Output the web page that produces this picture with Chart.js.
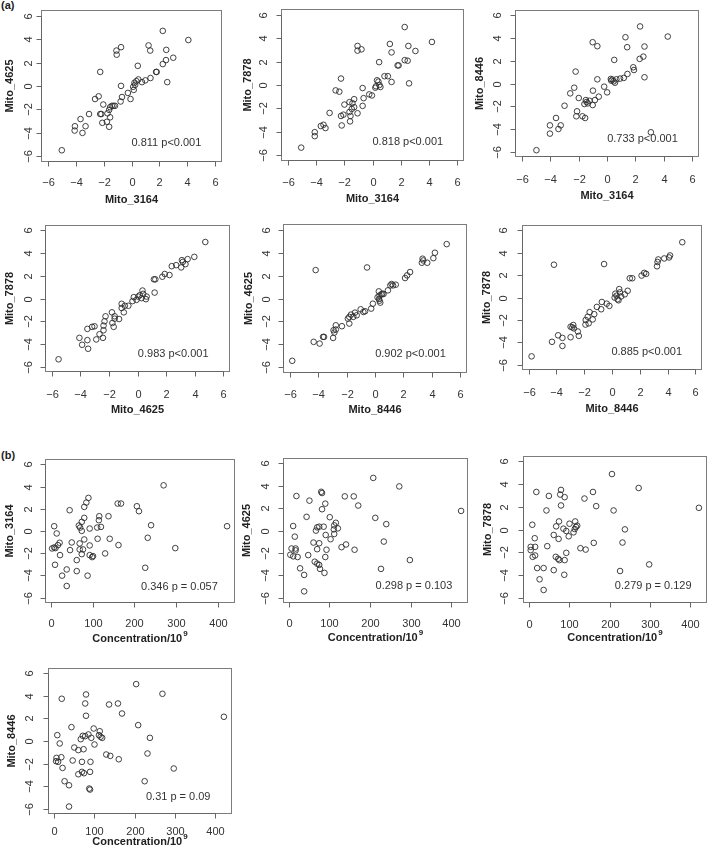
<!DOCTYPE html>
<html><head><meta charset="utf-8">
<script src="https://cdn.jsdelivr.net/npm/chart.js@4.4.0/dist/chart.umd.min.js"></script>
<style>
html,body{margin:0;padding:0;background:#fff;overflow:hidden;}
#wrap{position:relative;width:709px;height:858px;overflow:hidden;}
#wrap canvas{position:absolute;}
.lbl{position:absolute;font:bold 11px "Liberation Sans",Arial,sans-serif;color:#222;line-height:11px;}
</style></head>
<body><div id="wrap"><div class="lbl" style="left:1px;top:0px">(a)</div><div class="lbl" style="left:1px;top:450px">(b)</div></div>
<script>
// ---------- tick labels ----------
const ticksMito = [-6, -4, -2, 0, 2, 4, 6];
const ticksConc = [0, 100, 200, 300, 400];

// ---------- (a) panel 1: Mito_4625 vs Mito_3164 ----------
const a1_x = [-4.99,4.07,2.24,1.22,1.34,2.49,-0.75,-1.08,-1.06,2.99,2.47,2.24,0.45,1.76,1.8,-2.24,1.36,2.56,0.99,0.75,0.49,0.35,0.21,0.26,0.12,-0.75,-0.26,-0.07,0.16,-0.68,-0.78,-2.61,-2.35,-2.02,-1.18,-1.41,-1.29,-1.53,-1.6,-1.72,-2.24,-2.16,-3.04,-1.53,-2.09,-1.76,-1.6,-3.65,-4.05,-3.29,-4.07,-3.51];
const a1_y = [-5.48,3.92,4.7,3.46,3.02,3.08,3.31,3.02,2.67,2.41,2.21,1.87,1.72,1.2,1.2,1.2,0.68,0.33,0.48,0.33,0.56,0.42,0.27,0.1,-0.07,0.01,-0.59,-1.11,-0.33,-0.94,-1.32,-1.11,-0.88,-1.58,-1.69,-1.69,-1.69,-1.81,-2.04,-2.33,-2.39,-2.39,-2.39,-2.67,-3.14,-3.05,-3.48,-2.82,-3.43,-3.43,-3.8,-4.0];
// ---------- (a) panel 2: Mito_7878 vs Mito_3164 ----------
const a2_x = [-5.05,2.28,4.21,1.23,2.54,-1.06,-1.06,-0.78,1.35,3.04,2.28,2.49,0.47,1.78,1.85,0.85,1.09,1.35,2.59,0.32,0.42,0.49,0.25,0.2,0.56,-2.23,-2.61,-2.35,-0.7,-0.23,-0.04,-0.63,-1.3,-1.99,-1.63,-1.42,-1.3,-1.47,-0.7,-1.06,-1.63,-1.56,-1.59,-2.06,-2.23,-2.18,-3.04,-3.66,-3.47,-3.33,-4.09,-4.09];
const a2_y = [-5.34,4.94,3.67,3.5,3.33,3.33,2.93,3.04,2.78,2.9,2.12,2.07,1.95,1.67,1.67,0.75,0.75,0.26,0.14,0.4,0.29,0,-0.11,-0.23,-0.17,0.55,-0.46,-0.57,-0.26,-0.8,-0.89,-1.12,-1.21,-1.67,-1.46,-1.55,-1.89,-2.04,-1.78,-2.41,-2.3,-2.64,-3.1,-2.53,-2.64,-3.45,-2.38,-3.5,-3.39,-3.67,-4.02,-4.36];
// ---------- (a) panel 3: Mito_8446 vs Mito_3164 ----------
const a3_x = [-4.97,2.33,4.28,1.3,2.64,1.42,-1.01,-0.68,0.51,2.3,2.56,1.85,1.9,-2.21,2.64,1.44,1.18,0.92,0.66,0.39,0.3,0.47,0.56,0.27,-0.68,-2.31,-2.59,-0.2,0.01,-0.99,-0.58,-1.99,-0.85,-1.35,-1.59,-1.49,-1.23,-1.01,-2.99,-2.11,-2.16,-1.73,-1.54,-3.59,-3.26,-3.42,-4.02,-4.02,3.09,-1.44];
const a3_y = [-5.88,5.03,4.14,4.08,3.26,3.2,3.64,3.29,2.08,2.17,2.37,1.43,1.19,1.05,0.55,0.84,0.49,0.43,0.37,0.34,0.25,0.19,0.07,0.4,0.37,-0.37,-0.87,-0.28,-0.78,-0.63,-1.16,-1.28,-1.46,-1.75,-1.81,-1.46,-1.52,-1.9,-1.96,-2.45,-2.89,-2.89,-3.04,-3.04,-3.69,-4.01,-3.69,-4.42,-4.3,-1.63];
// ---------- (a) panel 4: Mito_7878 vs Mito_4625 ----------
const a4_x = [-5.53,4.75,3.98,3.51,3.11,3.18,3.36,3.06,2.71,2.4,2.24,1.91,1.74,1.15,1.25,1.2,0.35,0.4,0.16,0.05,0.59,0.28,-0.07,-0.26,-0.35,0.64,-0.64,-1.11,-1.11,-0.89,-0.96,-1.79,-1.6,-1.6,-1.29,-1.76,-1.67,-2.24,-2.31,-2.38,-2.38,-2.66,-2.89,-2.42,-3.01,-3.18,-3.51,-3.51,-3.46,-3.88,-4.07];
const a4_y = [-5.36,4.98,3.67,3.47,3.38,3.23,3.03,2.74,2.94,2.85,2.07,2.16,1.92,1.69,1.69,0.52,0.7,0.41,0.29,0.17,-0.06,0.03,-0.12,0.12,-0.23,0.17,-0.64,-0.47,-0.84,-0.64,-1.22,-1.22,-1.57,-1.78,-1.81,-2.16,-2.5,-1.57,-2.01,-2.39,-2.8,-3.15,-3.61,-3.47,-2.45,-2.5,-2.68,-3.67,-4.43,-4.08,-3.47];
// ---------- (a) panel 5: Mito_4625 vs Mito_8446 ----------
const a5_x = [-5.83,5.05,4.22,4.11,3.68,3.35,3.3,3.4,2.47,2.26,2.12,1.46,1.17,1.27,1.08,0.91,0.6,0.51,0.27,0.32,0.18,0.32,0.37,-0.56,-4.18,-0.15,-0.27,-1.01,-0.82,-1.41,-1.69,-1.81,-1.53,-1.91,-1.29,-1.81,-2.33,-2.76,-2.76,-2.92,-2.95,-2.86,-3.59,-3.66,-3.9,-4.32,-0.7,0.45,0.28];
const a5_y = [-5.42,4.73,3.98,3.51,3.11,3.46,3.11,3.31,2.3,2.01,1.78,1.2,1.26,1.14,1.14,0.71,0.39,0.42,0.62,0.27,0.1,-0.19,-0.36,2.7,2.47,-0.45,-0.88,-0.94,-1.17,-1.23,-1.4,-1.6,-1.6,-1.75,-1.46,-2.18,-2.41,-2.33,-2.7,-2.76,-3.43,-2.96,-3.34,-3.34,-3.92,-3.77,-1.11,0.35,-0.05];
// ---------- (a) panel 6: Mito_7878 vs Mito_8446 ----------
const a6_x = [-5.79,5.06,4.18,4.11,3.76,3.33,3.28,3.24,2.46,2.32,2.13,1.28,1.46,1.13,0.92,0.52,0.57,0.24,0.33,0.19,0.47,0.66,0.4,-0.57,-4.18,-0.73,-0.38,-0.19,-1.09,-0.78,-1.28,-1.61,-1.75,-1.89,-1.91,-1.68,-1.39,-2.79,-2.86,-2.98,-2.46,-2.39,-2.98,-3.57,-3.88,-3.57,-4.32,-2.74];
const a6_y = [-5.26,4.94,3.76,3.58,3.49,3.4,3.17,2.79,2.11,2.2,1.96,1.72,1.72,0.6,0.28,0.75,0.46,0.34,0.16,-0.01,-0.25,0.1,-0.16,2.99,2.93,-0.4,-0.55,-0.75,-0.84,-1.05,-1.49,-1.31,-1.72,-2.01,-2.42,-2.31,-1.96,-2.46,-2.67,-2.61,-3.04,-3.43,-3.55,-3.61,-3.38,-4.33,-3.96,-2.76];
// ---------- (b) panel 1: Mito_3164 vs Concentration ----------
const b1_x = [270,422,160,168,206,211,240,232,298,226,90,85,80,45,116,138,115,80,74,67,70,74,93,111,120,8,14,141,112,80,21,17,50,69,93,162,3,8,11,46,69,77,74,22,93,101,99,130,62,10,38,62,27,88,38];
const b1_y = [4.11,0.43,2.47,2.47,2.23,1.78,0.52,-0.61,-1.54,-3.31,2.98,2.56,2.17,1.87,1.33,1.33,0.97,1.18,0.82,0.49,0.31,0.01,0.22,0.31,0.37,0.43,-0.22,-0.7,-0.7,-0.76,-1.06,-1.27,-1.03,-1.12,-1.3,-1.27,-1.57,-1.48,-1.54,-1.72,-1.66,-1.66,-2.08,-2.17,-2.17,-2.26,-2.35,-2.02,-2.62,-3.04,-3.46,-3.61,-4.02,-4.02,-4.95];
// ---------- (b) panel 2: Mito_4625 vs Concentration ----------
const b2_x = [208,272,424,138,160,171,213,240,234,298,227,19,51,80,82,90,82,44,101,116,112,121,111,70,67,75,86,11,15,91,112,103,61,75,141,130,162,93,70,7,17,17,4,11,22,48,90,64,70,75,28,77,88,38,38];
const b2_y = [4.7,3.94,1.75,3.05,3.05,2.23,1.13,0.57,-0.99,-2.64,-3.43,3.08,2.67,3.46,3.35,2.4,1.9,1.22,1.19,0.69,0.46,0.19,0.1,0.28,-0.01,0.34,0.34,0.4,-0.55,-0.4,-0.31,-0.78,-1.08,-1.14,-1.25,-1.49,-1.72,-1.72,-1.67,-1.61,-1.61,-1.78,-2.17,-2.31,-2.37,-2.2,-2.37,-2.79,-2.96,-3.08,-3.38,-3.43,-3.79,-3.97,-5.44];
// ---------- (b) panel 3: Mito_7878 vs Concentration ----------
const b3_x = [206,272,421,19,50,80,78,89,138,159,167,80,44,210,238,232,298,226,9,75,68,101,115,117,120,114,111,86,93,99,62,74,15,46,128,141,161,5,16,5,10,16,67,73,76,93,89,21,37,62,27,88,37];
const b3_y = [4.89,3.66,1.91,3.31,2.96,3.49,3.08,2.85,2.73,3.31,2.06,2.12,1.68,1.68,0.01,-1.15,-3.08,-3.66,0.42,0.71,0.28,0.51,0.71,0.22,0.34,0.04,-0.25,0.07,-0.13,-0.6,-0.48,-0.83,-0.77,-1.47,-1.65,-1.77,-1.18,-1.53,-1.53,-1.82,-2.41,-2.29,-2.41,-2.58,-2.7,-2.06,-2.7,-3.4,-3.4,-3.58,-4.39,-3.99,-5.33];
// ---------- (b) panel 4: Mito_8446 vs Concentration ----------
const b4_x = [204,269,421,20,80,78,80,137,159,169,209,238,232,297,225,44,9,15,99,114,112,116,120,86,72,67,78,93,101,51,61,74,130,140,161,91,70,47,7,19,6,11,22,70,75,90,61,27,38,88,90,38];
const b4_y = [5.05,4.19,2.15,3.75,4.13,3.33,2.24,3.24,3.33,2.44,1.41,0.28,-1.11,-2.44,-3.57,1.23,0.52,-0.22,1.11,0.87,0.52,0.37,0.28,0.58,0.46,0.16,0.43,0.28,-0.31,-0.58,-0.81,-0.73,-1.2,-1.32,-1.62,-1.85,-1.85,-1.73,-1.5,-1.44,-1.79,-1.85,-2.39,-2.74,-2.86,-2.74,-2.95,-3.57,-3.93,-4.22,-4.31,-5.82];

// ---------- labels ----------
const xTitles = ['Mito_3164','Mito_3164','Mito_3164','Mito_4625','Mito_8446','Mito_8446','CONC','CONC','CONC','CONC'];
const yTitles = ['Mito_4625','Mito_7878','Mito_8446','Mito_7878','Mito_4625','Mito_7878','Mito_3164','Mito_4625','Mito_7878','Mito_8446'];
const stats = ['0.811 p<0.001','0.818 p<0.001','0.733 p<0.001','0.983 p<0.001','0.902 p<0.001','0.885 p<0.001','0.346 p = 0.057','0.298 p = 0.103','0.279 p = 0.129','0.31 p = 0.09'];

// ---------- layout (plot box: left, top, right, bottom; label offsets) ----------
const panels = [
  {xs:a1_x, ys:a1_y, box:[41,10,222,162], xt:21, xT:38, yt:12, yT:31, b:false},
  {xs:a2_x, ys:a2_y, box:[281,9,464,161], xt:22, xT:38, yt:17, yT:33, b:false},
  {xs:a3_x, ys:a3_y, box:[515,10,699,157], xt:23, xT:39, yt:17, yT:35, b:false},
  {xs:a4_x, ys:a4_y, box:[45,225,230,372], xt:23, xT:37.5, yt:16, yT:35, b:false},
  {xs:a5_x, ys:a5_y, box:[283,224,467,373], xt:22, xT:37, yt:16, yT:34, b:false},
  {xs:a6_x, ys:a6_y, box:[522,225,702,370], xt:23, xT:39, yt:18, yT:35, b:false},
  {xs:b1_x, ys:b1_y, box:[45,459,235,603], xt:20.5, xT:35.5, yt:16, yT:35, b:true},
  {xs:b2_x, ys:b2_y, box:[283,458,468,603], xt:20.5, xT:35, yt:17.5, yT:36, b:true},
  {xs:b3_x, ys:b3_y, box:[523,456,707,603], xt:22, xT:35, yt:18, yT:35, b:true},
  {xs:b4_x, ys:b4_y, box:[48,668,232,814], xt:17.7, xT:27.7, yt:18, yT:36, b:true}
];

const FONT = '"Liberation Sans", Arial, Helvetica, sans-serif';
const fmt = v => (v < 0 ? '\u2212' + Math.abs(v) : String(v));

const rAxes = {
  id: 'rAxes',
  afterDraw(chart) {
    const o = chart.options.plugins.rAxes;
    const {ctx, chartArea: a} = chart;
    const sx = chart.scales.x, sy = chart.scales.y;
    ctx.save();
    // box
    ctx.strokeStyle = '#7c7c7c'; ctx.lineWidth = 1;
    ctx.strokeRect(Math.round(a.left) + 0.5, Math.round(a.top) + 0.5, Math.round(a.right - a.left) - 1, Math.round(a.bottom - a.top) - 1);
    // x axis
    ctx.strokeStyle = '#666';
    const by = Math.round(a.bottom) - 0.5;
    const xp = o.xTicks.map(v => Math.round(sx.getPixelForValue(v)) + 0.5);
    ctx.beginPath();
    ctx.moveTo(xp[0], by); ctx.lineTo(xp[xp.length - 1], by);
    xp.forEach(p => { ctx.moveTo(p, by); ctx.lineTo(p, by + 5); });
    ctx.stroke();
    // y axis
    const lx = Math.round(a.left) + 0.5;
    const yp = o.yTicks.map(v => Math.round(sy.getPixelForValue(v)) + 0.5);
    ctx.beginPath();
    ctx.moveTo(lx, yp[0]); ctx.lineTo(lx, yp[yp.length - 1]);
    yp.forEach(p => { ctx.moveTo(lx, p); ctx.lineTo(lx - 5, p); });
    ctx.stroke();
    // tick labels
    ctx.fillStyle = '#333';
    ctx.font = '11px ' + FONT;
    ctx.textAlign = 'center'; ctx.textBaseline = 'middle';
    o.xTicks.forEach((v, i) => ctx.fillText(fmt(v), xp[i], a.bottom + o.xt));
    o.yTicks.forEach((v, i) => {
      ctx.save(); ctx.translate(a.left - o.yt, yp[i]); ctx.rotate(-Math.PI / 2);
      ctx.fillText(fmt(v), 0, 0); ctx.restore();
    });
    // axis titles
    ctx.fillStyle = '#222';
    ctx.font = 'bold 11px ' + FONT;
    const cx = (a.left + a.right) / 2;
    if (o.xTitle === 'CONC') {
      const main = 'Concentration/10';
      ctx.font = 'bold 11px ' + FONT;
      const w1 = ctx.measureText(main).width;
      ctx.font = 'bold 8px ' + FONT;
      const w2 = ctx.measureText('9').width;
      const x0 = cx - (w1 + w2 + 1) / 2;
      ctx.textAlign = 'left';
      ctx.font = 'bold 11px ' + FONT;
      ctx.fillText(main, x0, a.bottom + o.xT);
      ctx.font = 'bold 8px ' + FONT;
      ctx.fillText('9', x0 + w1 + 1, a.bottom + o.xT - 5);
      ctx.textAlign = 'center';
    } else {
      ctx.fillText(o.xTitle, cx, a.bottom + o.xT);
    }
    ctx.font = 'bold 11px ' + FONT;
    ctx.save(); ctx.translate(a.left - o.yT, (a.top + a.bottom) / 2); ctx.rotate(-Math.PI / 2);
    ctx.fillText(o.yTitle, 0, 0); ctx.restore();
    // statistic
    ctx.fillStyle = '#333';
    ctx.font = '11px ' + FONT;
    ctx.fillText(o.stat, sx.getPixelForValue(o.statX), sy.getPixelForValue(o.statY));
    ctx.restore();
  }
};

const wrap = document.getElementById('wrap');
const PL = 46, PT = 4, PR = 4, PB = 48;
panels.forEach((p, i) => {
  const [L, T, R, B] = p.box;
  const cv = document.createElement('canvas');
  const W = (R - L) + PL + PR, H = (B - T) + PT + PB;
  cv.width = W; cv.height = H;
  cv.style.left = (L - PL) + 'px'; cv.style.top = (T - PT) + 'px';
  cv.style.width = W + 'px'; cv.style.height = H + 'px';
  wrap.appendChild(cv);
  const n = Math.min(p.xs.length, p.ys.length);
  const pts = [];
  for (let k = 0; k < n; k++) pts.push({x: p.xs[k], y: p.ys[k]});
  new Chart(cv, {
    type: 'scatter',
    data: {datasets: [{data: pts, pointRadius: 2.8, pointBorderWidth: 1,
      pointBorderColor: 'rgba(45,45,45,0.9)', pointBackgroundColor: 'rgba(0,0,0,0)', pointHoverRadius: 2.8}]},
    options: {
      responsive: false, animation: false, devicePixelRatio: 1, events: [],
      layout: {padding: {left: PL, top: PT, right: PR, bottom: PB}},
      scales: {
        x: {type: 'linear', display: false, min: p.b ? -14 : -6.48, max: p.b ? 441 : 6.48},
        y: {type: 'linear', display: false, min: -6.48, max: 6.48}
      },
      plugins: {
        legend: {display: false}, tooltip: {enabled: false},
        rAxes: {xTicks: p.b ? ticksConc : ticksMito, yTicks: ticksMito,
          xTitle: xTitles[i], yTitle: yTitles[i], stat: stats[i],
          statX: p.b ? 308 : 2.5, statY: p.b ? -5 : -4.85,
          xt: p.xt, xT: p.xT, yt: p.yt, yT: p.yT}
      }
    },
    plugins: [rAxes]
  });
});
</script>
</body></html>
